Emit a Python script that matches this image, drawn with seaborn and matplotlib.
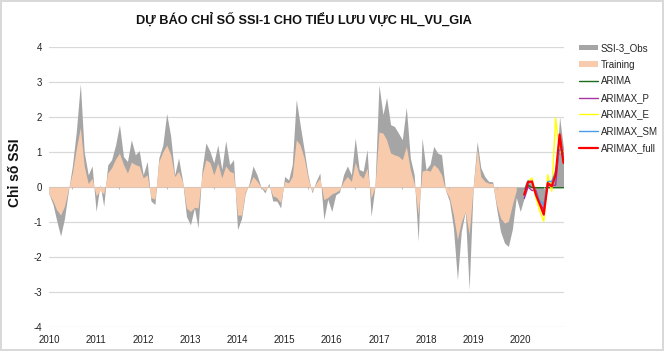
import numpy as np
import pandas as pd
import matplotlib
matplotlib.use('Agg')
import matplotlib.pyplot as plt
import seaborn as sns

# monthly series 2010-01 .. 2020-12
months = pd.date_range('2010-01-01', periods=132, freq='MS')

ssi_obs = [
    -0.2, -0.5, -0.95, -1.4, -0.9, -0.1, 0.6, 1.6, 2.95, 1.0, 0.35, 0.6,          # 2010
    -0.7, 0.07, -0.55, 0.63, 0.78, 1.2, 1.78, 0.87, 0.73, 1.35, 0.92, 1.04,       # 2011
    0.35, 0.73, -0.4, -0.5, 0.83, 1.2, 2.1, 1.45, 0.35, 0.83, 0.18, -0.84,        # 2012
    -1.08, -0.6, -1.17, 0.5, 1.26, 1.02, 0.69, 1.2, 0.5, 1.32, 0.64, 0.78,        # 2013
    -1.22, -0.9, -0.2, 0.1, 0.6, 0.35, 0.0, -0.17, 0.11, -0.4, -0.4, -0.6,        # 2014
    0.3, 0.2, 0.64, 2.5, 1.78, 1.07, 0.35, -0.17, 0.16, 0.4, -0.93, -0.35,        # 2015
    -0.7, -0.22, -0.15, 0.35, 0.6, 0.35, 1.4, 0.5, 0.45, 1.07, -0.84, 0.0,        # 2016
    2.92, 2.07, 2.56, 1.78, 1.73, 1.54, 1.35, 2.28, 0.83, 0.35, -1.55, 1.4,       # 2017
    0.5, 0.65, 1.16, 0.97, 0.92, -0.1, -0.4, -1.17, -2.65, -1.27, -0.7, -2.93,    # 2018
    0.0, 1.3, 0.55, 0.3, 0.16, 0.15, -0.6, -1.27, -1.6, -1.7, -1.2, -0.3,         # 2019
    -0.7, -0.3, 0.2, 0.05, -0.15, -0.4, -0.65, 0.1, 0.2, 0.4, 2.0, 1.1,           # 2020
]

training = [
    -0.2, -0.4, -0.65, -0.8, -0.55, -0.05, 0.4, 1.1, 1.7, 0.6, 0.1, 0.25,
    -0.25, -0.1, -0.2, 0.4, 0.55, 0.8, 0.97, 0.64, 0.4, 0.71, 0.64, 0.6,
    0.26, 0.35, -0.3, -0.35, 0.73, 1.0, 1.2, 0.92, 0.3, 0.45, 0.15, -0.6,
    -0.7, -0.58, -0.6, 0.35, 0.78, 0.7, 0.35, 0.69, 0.26, 0.6, 0.45, 0.4,
    -0.8, -0.8, -0.15, 0.05, 0.3, 0.17, 0.0, -0.1, 0.05, -0.25, -0.3, -0.45,
    0.16, 0.12, 0.3, 1.35, 1.2, 0.83, 0.26, -0.12, 0.1, 0.26, -0.36, -0.3,
    -0.2, -0.15, -0.08, 0.16, 0.3, 0.16, 0.71, 0.35, 0.25, 0.54, -0.31, 0.0,
    1.57, 1.54, 1.35, 0.97, 0.92, 0.88, 0.78, 1.16, 0.5, 0.1, -0.79, 0.45,
    0.49, 0.45, 0.64, 0.54, 0.35, -0.1, -0.3, -0.8, -1.5, -1.0, -0.7, -1.36,
    0.0, 1.1, 0.3, 0.16, 0.11, 0.1, -0.5, -0.89, -1.03, -0.98, -0.5, -0.1,
]

# forecasts 2020-02 .. 2020-12
fc_months = months[121:]
arima = [-0.2, 0.05, -0.02, -0.02, -0.02, -0.02, -0.02, -0.02, -0.02, -0.02, -0.02]
arimax_p = [-0.33, 0.0, -0.1, -0.1, -0.45, -0.65, 0.05, 0.05, 0.05, 1.3, 0.75]
arimax_e = [-0.1, 0.16, 0.26, -0.31, -0.7, -0.98, 0.35, -0.12, 1.97, 1.0, 1.0]
arimax_sm = [-0.08, 0.18, 0.11, -0.17, -0.4, -0.5, 0.16, 0.16, 0.45, 1.07, 0.97]
arimax_full = [-0.22, 0.14, 0.16, -0.22, -0.5, -0.79, 0.11, 0.02, 0.35, 1.5, 0.69]

models = ['ARIMA', 'ARIMAX_P', 'ARIMAX_E', 'ARIMAX_SM', 'ARIMAX_full']
colors = {'ARIMA': '#1E6B1E', 'ARIMAX_P': '#A535A5', 'ARIMAX_E': '#FFFF00',
          'ARIMAX_SM': '#4A9BE8', 'ARIMAX_full': '#FF0000'}
widths = {'ARIMA': 1.0, 'ARIMAX_P': 1.0, 'ARIMAX_E': 1.0, 'ARIMAX_SM': 1.0, 'ARIMAX_full': 1.6}

fc = pd.DataFrame({'date': fc_months, 'ARIMA': arima, 'ARIMAX_P': arimax_p,
                   'ARIMAX_E': arimax_e, 'ARIMAX_SM': arimax_sm, 'ARIMAX_full': arimax_full})
fc = fc.melt(id_vars='date', var_name='model', value_name='ssi')

sns.set_theme(style='white')
plt.rcParams['font.family'] = ['Liberation Sans', 'DejaVu Sans']

fig = plt.figure(figsize=(6.64, 3.51), dpi=100)
fig.patch.set_edgecolor('#D9D9D9')
fig.patch.set_linewidth(1.5)
ax = fig.add_axes([49 / 664, 24 / 351, 514.5 / 664, 280 / 351])

ax.fill_between(months, 0, ssi_obs, color='#A5A5A5', lw=0, label='SSI-3_Obs')
ax.fill_between(months[:120], 0, training, color='#F8CBAD', lw=0, label='Training')

for m in models:
    sns.lineplot(data=fc[fc['model'] == m], x='date', y='ssi', color=colors[m],
                 lw=widths[m], label=m, ax=ax)

# small ticks on the zero line (mid year)
ax.vlines(pd.date_range('2010-07-01', periods=11, freq='12MS'), -0.07, 0,
          colors='#BFBFBF', lw=0.8)

ax.set_ylim(-4, 4)
ax.set_xlim(months[0], months[-1])
ax.set_yticks(range(-4, 5))
ax.set_yticklabels([str(v) for v in range(-4, 5)])
years = pd.date_range('2010-01-01', periods=11, freq='YS')
ax.set_xticks(years)
ax.set_xticklabels([str(y.year) for y in years])
ax.yaxis.grid(True, color='#D9D9D9', lw=0.9)
ax.xaxis.grid(False)
for s in ax.spines.values():
    s.set_visible(False)
ax.tick_params(axis='both', length=0, labelsize=7, colors='#222222')
ax.tick_params(axis='y', pad=5)
ax.tick_params(axis='x', pad=6)
ax.set_xlabel('')
ax.set_ylabel('Chỉ số SSI', fontsize=10, fontweight='bold', color='#111111')
ax.yaxis.set_label_coords(-0.052, 0.55)

fig.text(304 / 664, 1 - 20 / 351, 'DỰ BÁO CHỈ SỐ SSI-1 CHO TIỂU LƯU VỰC HL_VU_GIA',
         ha='center', va='center', fontsize=9.2, fontweight='bold', color='#111111')

if ax.get_legend() is not None:
    ax.get_legend().remove()
handles, labels = ax.get_legend_handles_labels()
fig.legend(handles, labels, loc='upper left', bbox_to_anchor=(579 / 664, 1 - 43 / 351),
           frameon=False, fontsize=7, labelspacing=0.68, handlelength=2.0,
           handleheight=0.5, handletextpad=0.25, borderpad=0, borderaxespad=0)

fig.savefig('out.png', dpi=100, edgecolor=fig.get_edgecolor())
